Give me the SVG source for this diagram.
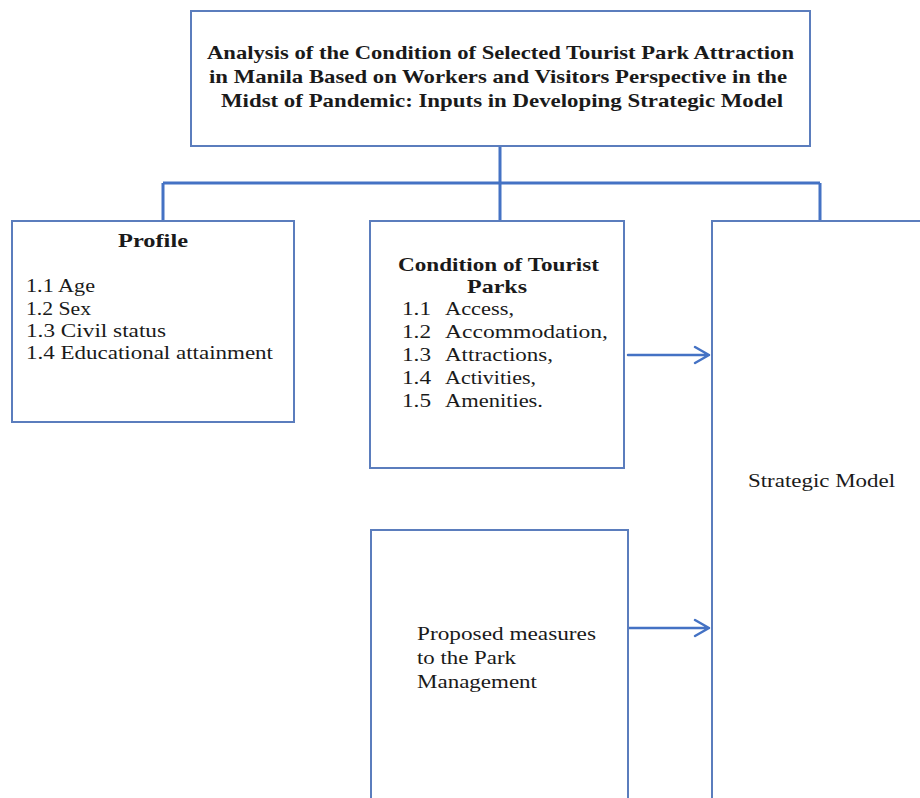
<svg xmlns="http://www.w3.org/2000/svg" width="920" height="798" viewBox="0 0 920 798">
<defs>
<style>
.box{fill:#fff;stroke:#5b7dbd;stroke-width:2}
.con{fill:none;stroke:#4472c4;stroke-width:3}
.arr{fill:none;stroke:#4472c4;stroke-width:2.5;stroke-linecap:round;stroke-linejoin:round}
text{font-family:"Liberation Serif","Times New Roman",serif;fill:#1a1a1a}
.t{font-size:19.5px;font-weight:bold}
.h{font-size:19px;font-weight:bold}
.n{font-size:19px}
</style>
</defs>
<rect width="920" height="798" fill="#fff"/>
<g id="connectors">
<path class="con" d="M500 146V183M163 183H820M163 183V220M500 183V220M820 183V220"/>
<path class="arr" d="M628 355H709M695 347L709 355L695 363"/>
<path class="arr" d="M628 628H709M695 620L709 628L695 636"/>
</g>
<g id="title">
<rect class="box" x="191" y="11" width="619" height="135"/>
<text class="t" x="207" y="59" textLength="587" lengthAdjust="spacingAndGlyphs">Analysis of the Condition of Selected Tourist Park Attraction</text>
<text class="t" x="209" y="83" textLength="578" lengthAdjust="spacingAndGlyphs">in Manila Based on Workers and Visitors Perspective in the</text>
<text class="t" x="221" y="107" textLength="562" lengthAdjust="spacingAndGlyphs">Midst of Pandemic: Inputs in Developing Strategic Model</text>
</g>
<g id="profile">
<rect class="box" x="12" y="221" width="282" height="201"/>
<text class="h" x="118" y="247" textLength="70" lengthAdjust="spacingAndGlyphs">Profile</text>
<text class="n" x="26" y="292" textLength="69" lengthAdjust="spacingAndGlyphs">1.1 Age</text>
<text class="n" x="26" y="315" textLength="65" lengthAdjust="spacingAndGlyphs">1.2 Sex</text>
<text class="n" x="26" y="337" textLength="140" lengthAdjust="spacingAndGlyphs">1.3 Civil status</text>
<text class="n" x="26" y="359" textLength="247" lengthAdjust="spacingAndGlyphs">1.4 Educational attainment</text>
</g>
<g id="condition">
<rect class="box" x="370" y="221" width="254" height="247"/>
<text class="h" x="398" y="271" textLength="201" lengthAdjust="spacingAndGlyphs">Condition of Tourist</text>
<text class="h" x="467" y="293" textLength="60" lengthAdjust="spacingAndGlyphs">Parks</text>
<text class="n" x="402" y="315" textLength="29" lengthAdjust="spacingAndGlyphs">1.1</text><text class="n" x="445" y="315" textLength="69" lengthAdjust="spacingAndGlyphs">Access,</text>
<text class="n" x="402" y="338" textLength="29" lengthAdjust="spacingAndGlyphs">1.2</text><text class="n" x="445" y="338" textLength="163" lengthAdjust="spacingAndGlyphs">Accommodation,</text>
<text class="n" x="402" y="361" textLength="29" lengthAdjust="spacingAndGlyphs">1.3</text><text class="n" x="445" y="361" textLength="108" lengthAdjust="spacingAndGlyphs">Attractions,</text>
<text class="n" x="402" y="384" textLength="29" lengthAdjust="spacingAndGlyphs">1.4</text><text class="n" x="445" y="384" textLength="91" lengthAdjust="spacingAndGlyphs">Activities,</text>
<text class="n" x="402" y="407" textLength="29" lengthAdjust="spacingAndGlyphs">1.5</text><text class="n" x="445" y="407" textLength="98" lengthAdjust="spacingAndGlyphs">Amenities.</text>
</g>
<g id="proposed">
<rect class="box" x="371" y="530" width="257" height="280"/>
<text class="n" x="417" y="640" textLength="179" lengthAdjust="spacingAndGlyphs">Proposed measures</text>
<text class="n" x="417" y="664" textLength="99" lengthAdjust="spacingAndGlyphs">to the Park</text>
<text class="n" x="417" y="688" textLength="120" lengthAdjust="spacingAndGlyphs">Management</text>
</g>
<g id="strategic">
<rect class="box" x="712" y="221" width="230" height="600"/>
<text class="n" x="748" y="487" textLength="147" lengthAdjust="spacingAndGlyphs">Strategic Model</text>
</g>
</svg>
